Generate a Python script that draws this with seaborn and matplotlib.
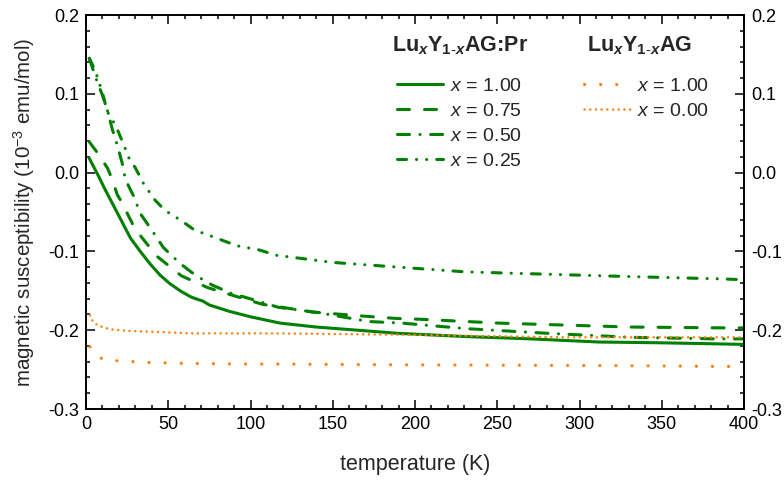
import matplotlib
matplotlib.use("Agg")
import matplotlib.pyplot as plt
from matplotlib.ticker import MultipleLocator, FuncFormatter
import numpy as np
import pandas as pd
import seaborn as sns

# --- data: magnetic susceptibility (10^-3 emu/mol) vs temperature (K) ---
t_pr100 = [2, 5, 8, 11, 15, 20, 27, 33, 39, 45, 51, 58, 64, 68, 71, 75, 87, 100, 118, 140, 165, 190, 230, 270, 312, 350, 400]
chi_pr100 = [0.018, 0.006, -0.006, -0.019, -0.035, -0.055, -0.083, -0.100, -0.116, -0.130, -0.141, -0.151, -0.158, -0.161, -0.163, -0.168, -0.176, -0.183, -0.191, -0.196, -0.200, -0.204, -0.208, -0.211, -0.215, -0.216, -0.218]

t_pr075 = [2, 7, 13, 16, 19, 21, 30, 43, 58, 74, 88, 107, 138, 168, 188, 202, 251, 331, 384, 400]
chi_pr075 = [0.039, 0.025, 0.006, -0.009, -0.028, -0.035, -0.072, -0.106, -0.131, -0.146, -0.155, -0.167, -0.177, -0.182, -0.185, -0.186, -0.191, -0.196, -0.197, -0.197]

t_pr050 = [2, 6, 12, 16, 19, 22, 24, 29, 33, 40, 47, 57, 67, 77, 88, 98, 117, 142, 172, 192, 231, 281, 331, 382, 400]
chi_pr050 = [0.145, 0.120, 0.087, 0.055, 0.035, 0.012, -0.009, -0.030, -0.052, -0.073, -0.095, -0.115, -0.131, -0.143, -0.153, -0.159, -0.171, -0.178, -0.189, -0.191, -0.198, -0.204, -0.209, -0.211, -0.211]

t_pr025 = [2, 5.5, 10, 13, 16, 19, 23, 26, 30, 35, 42, 48, 58, 66, 74, 83, 92, 105, 116, 150, 190, 231, 281, 331, 388, 400]
chi_pr025 = [0.145, 0.130, 0.101, 0.077, 0.067, 0.055, 0.035, 0.019, 0.006, -0.014, -0.035, -0.048, -0.061, -0.073, -0.079, -0.086, -0.093, -0.098, -0.105, -0.114, -0.120, -0.126, -0.129, -0.132, -0.135, -0.136]

t_ag100 = [2.4, 10, 20, 30, 39, 59, 98, 117, 200, 322, 391, 400]
chi_ag100 = [-0.221, -0.237, -0.239, -0.240, -0.241, -0.242, -0.243, -0.243, -0.244, -0.245, -0.246, -0.246]

t_ag000 = [2.4, 4, 7, 15, 27, 47, 63, 116, 200, 291, 312, 400]
chi_ag000 = [-0.181, -0.188, -0.194, -0.199, -0.201, -0.2025, -0.204, -0.204, -0.206, -0.209, -0.209, -0.209]

labels_pr = ["1.00", "0.75", "0.50", "0.25"]
labels_ag = ["1.00", "0.00"]
title_pr = r"Lu$_{\mathbfit{x}}$Y$_{\mathbf{1}\text{-}\mathbfit{x}}$AG:Pr"
title_ag = r"Lu$_{\mathbfit{x}}$Y$_{\mathbf{1}\text{-}\mathbfit{x}}$AG"

GREEN = "#008000"
ORANGE = "#ff8010"

sns.set_theme(style="ticks")
plt.rcParams["font.family"] = ["Liberation Sans", "DejaVu Sans"]
plt.rcParams["mathtext.fontset"] = "custom"
plt.rcParams["mathtext.rm"] = "Liberation Sans"
plt.rcParams["mathtext.it"] = "Liberation Sans:italic"
plt.rcParams["mathtext.bf"] = "Liberation Sans:bold"
plt.rcParams["mathtext.bfit"] = "Liberation Sans:bold:italic"
plt.rcParams["lines.scale_dashes"] = False


def pts(*px):
    return tuple(v * 0.72 for v in px)


fig = plt.figure(figsize=(7.84, 4.8), dpi=100)
ax = fig.add_axes([86 / 784, 1 - 409 / 480, 658 / 784, 394 / 480])

series = [
    (t_pr100, chi_pr100, GREEN, "-", 2.2),
    (t_pr075, chi_pr075, GREEN, (0, pts(12, 15)), 2.2),
    (t_pr050, chi_pr050, GREEN, (0, pts(12, 10.5, 0.1, 10.5)), 2.2),
    (t_pr025, chi_pr025, GREEN, (0, pts(9, 10, 0.1, 10, 0.1, 10)), 2.2),
    (t_ag100, chi_ag100, ORANGE, (0, pts(0.1, 16)), 2.3),
    (t_ag000, chi_ag000, ORANGE, (0, pts(0.1, 5.6)), 1.8),
]

handles = []
for t, chi, col, ls, lw in series:
    df = pd.DataFrame({"T": t, "chi": chi})
    sns.lineplot(data=df, x="T", y="chi", ax=ax, color=col, linestyle=ls,
                 linewidth=lw, sort=False, estimator=None,
                 dash_capstyle="round", solid_capstyle="round")
    handles.append(ax.lines[-1])

ax.set_xlim(0, 400)
ax.set_ylim(-0.3, 0.2)
ax.xaxis.set_major_locator(MultipleLocator(50))
ax.xaxis.set_minor_locator(MultipleLocator(10))
ax.yaxis.set_major_locator(MultipleLocator(0.1))
ax.yaxis.set_minor_locator(MultipleLocator(0.02))
ax.yaxis.set_major_formatter(FuncFormatter(lambda v, p: f"{v:.1f}"))
ax.xaxis.set_major_formatter(FuncFormatter(lambda v, p: f"{v:.0f}"))

ax.tick_params(which="both", direction="in", top=True, right=True,
               labelright=True, width=1.1, colors="black", labelsize=13)
ax.tick_params(which="major", length=6.5)
ax.tick_params(which="minor", length=3)
ax.tick_params(axis="y", pad=5)
ax.tick_params(axis="x", pad=5)
for s in ax.spines.values():
    s.set_linewidth(1.4)
    s.set_color("black")

ax.set_xlabel("temperature (K)", fontsize=15.5)
ax.set_ylabel("magnetic susceptibility (10$^{-3}$ emu/mol)", fontsize=14.8)
ax.xaxis.set_label_coords(0.5, -0.113)
ax.yaxis.set_label_coords(-0.074, 0.5)

leg_kw = dict(frameon=False, fontsize=14, handlelength=2.35, handletextpad=0.36,
              labelspacing=0.37, borderpad=0, borderaxespad=0, loc="upper left")
leg1 = ax.legend(handles[:4], [f"$\\mathit{{x}}$ = {s}" for s in labels_pr],
                 bbox_to_anchor=(0.4726, 0.841), **leg_kw)
ax.add_artist(leg1)
leg2 = ax.legend(handles[4:], [f"$\\mathit{{x}}$ = {s}" for s in labels_ag],
                 bbox_to_anchor=(0.757, 0.841), **leg_kw)

ax.text(0.465, 0.9086, title_pr, transform=ax.transAxes, fontsize=15.5,
        fontweight="bold", va="baseline", ha="left")
ax.text(0.761, 0.9086, title_ag, transform=ax.transAxes, fontsize=15.5,
        fontweight="bold", va="baseline", ha="left")

fig.savefig("out.png", dpi=100)
